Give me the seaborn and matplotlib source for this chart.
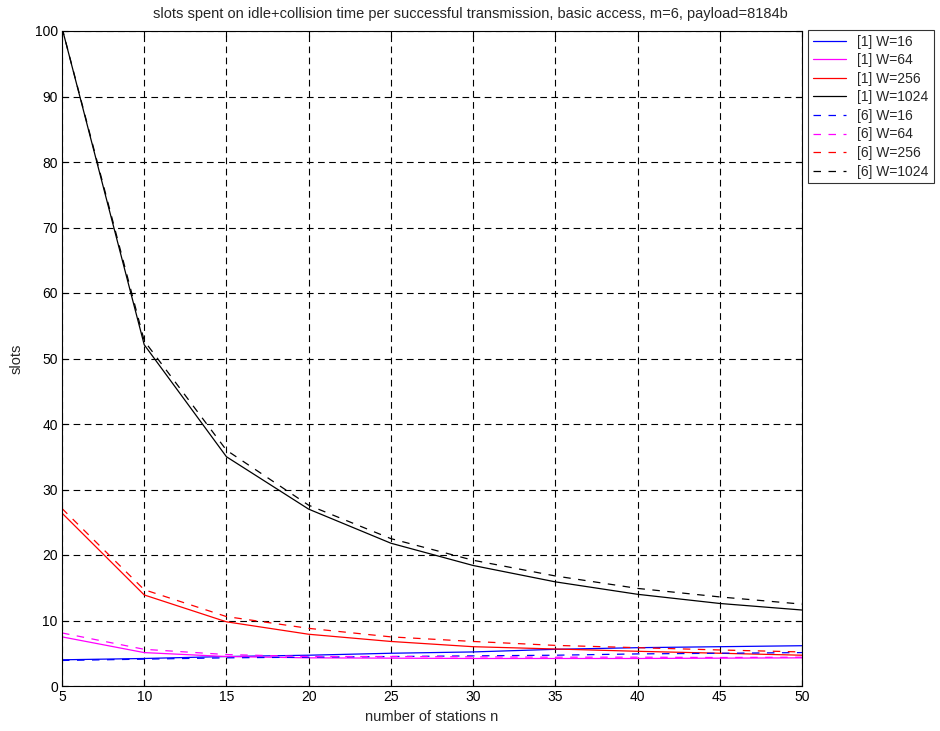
import matplotlib
matplotlib.use("Agg")
import matplotlib.pyplot as plt
import seaborn as sns
import pandas as pd

n_stations = [5, 10, 15, 20, 25, 30, 35, 40, 45, 50]

ref1_w16 = [4.0, 4.2, 4.5, 4.7, 5.0, 5.2, 5.6, 5.85, 6.0, 6.15]
ref1_w64 = [7.5, 5.1, 4.5, 4.3, 4.25, 4.2, 4.2, 4.2, 4.25, 4.3]
ref1_w256 = [26.4, 13.9, 9.8, 7.9, 6.8, 6.0, 5.65, 5.3, 5.0, 4.7]
ref1_w1024 = [100.5, 52.1, 35.0, 27.0, 21.8, 18.4, 15.9, 14.0, 12.6, 11.6]
ref6_w16 = [3.9, 4.1, 4.3, 4.4, 4.5, 4.6, 4.7, 4.9, 5.0, 5.1]
ref6_w64 = [8.1, 5.6, 4.8, 4.5, 4.5, 4.45, 4.4, 4.4, 4.35, 4.4]
ref6_w256 = [27.1, 14.7, 10.6, 8.8, 7.5, 6.8, 6.2, 5.85, 5.5, 5.2]
ref6_w1024 = [100.5, 52.7, 36.0, 27.6, 22.5, 19.2, 16.8, 14.9, 13.6, 12.5]

series = [
    ("[1] W=16", ref1_w16, "#0000ff", "-"),
    ("[1] W=64", ref1_w64, "#ff00ff", "-"),
    ("[1] W=256", ref1_w256, "#ff0000", "-"),
    ("[1] W=1024", ref1_w1024, "#000000", "-"),
    ("[6] W=16", ref6_w16, "#0000ff", "--"),
    ("[6] W=64", ref6_w64, "#ff00ff", "--"),
    ("[6] W=256", ref6_w256, "#ff0000", "--"),
    ("[6] W=1024", ref6_w1024, "#000000", "--"),
]

sns.set_style("white")
plt.rcParams['font.family'] = ['Liberation Sans', 'DejaVu Sans']

fig = plt.figure(figsize=(9.4, 7.31), dpi=100)
ax = fig.add_axes([62/940, 1-686/731, (802-62)/940, (686-31)/731])

for label, vals, color, ls in series:
    df = pd.DataFrame({"n": n_stations, "slots": vals})
    sns.lineplot(data=df, x="n", y="slots", ax=ax, color=color,
                 linewidth=0.9, label=label)
    l = ax.get_lines()[-1]
    if ls == "--":
        l.set_dashes((6, 6))

ax.set_xlim(5, 50)
ax.set_ylim(0, 100)
ax.set_xticks(range(5, 51, 5))
ax.set_yticks(range(0, 101, 10))
ax.grid(True, color="black", linestyle=(0, (6, 4)), linewidth=0.8)
for s in ax.spines.values():
    s.set_color("black")
    s.set_linewidth(0.8)
ax.tick_params(direction="in", length=4, labelsize=10, colors="black", pad=3,
               top=True, right=True, bottom=True, left=True)
ax.set_xlabel("number of stations n", fontsize=10.5, labelpad=4)
ax.set_ylabel("slots", fontsize=10.5, labelpad=8)
fig.text(0.5, 1 - 14/731,
         "slots spent on idle+collision time per successful transmission, basic access, m=6, payload=8184b",
         fontsize=10.5, ha="center", va="center")

leg = ax.legend(loc="upper left", bbox_to_anchor=((808-62)/740, 1.002),
                fontsize=10, frameon=True, fancybox=False, borderaxespad=0,
                handlelength=2.4, handletextpad=0.8, labelspacing=0.33, borderpad=0.35)
leg.get_frame().set_edgecolor("black")
leg.get_frame().set_linewidth(0.8)

fig.savefig("out.png", dpi=100)
